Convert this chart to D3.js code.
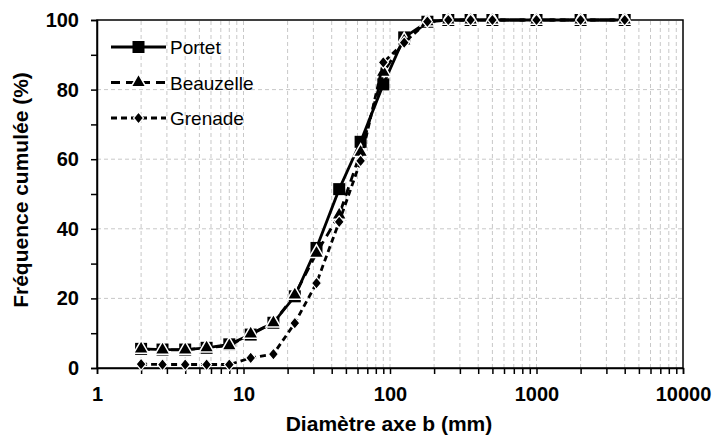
<!DOCTYPE html>
<html>
<head>
<meta charset="utf-8">
<title>Granulométrie</title>
<script src="https://d3js.org/d3.v7.min.js"></script>
<style>
  body { margin: 0; background: #fff; }
  svg { font-family: "Liberation Sans", Arial, sans-serif; }
  .grid line { stroke: #c8c8c8; stroke-width: 1; stroke-dasharray: 4,3; }
  .axis path, .axis line { stroke: #000; stroke-width: 1.5; }
  .axis text { font-size: 20px; font-weight: bold; fill: #000; }
  .title { font-size: 21px; font-weight: bold; }
  .legend text { font-size: 19px; }
</style>
</head>
<body>
<script>
const width = 717, height = 438;
const margin = { top: 20, right: 34, bottom: 70, left: 97 };

// sieve sizes (mm)
const sizes = [2, 2.8, 4, 5.6, 8, 11.2, 16, 22.4, 31.5, 45, 63, 90, 125, 180, 250, 355, 500, 1000, 2000, 4000];
const portet    = [5.5, 5.3, 5.3, 5.8, 6.8, 9.6, 13, 20.6, 34.5, 51.4, 65, 81.5, 95, 99.5, 100, 100, 100, 100, 100, 100];
const beauzelle = [5.5, 5.2, 5.2, 5.8, 6.4, 9.8, 13, 21, 33, 44, 62, 85, 94, 99.5, 100, 100, 100, 100, 100, 100];
const grenade   = [1.1, 1, 1, 1, 1, 2.9, 4, 12.9, 24.4, 42, 59.5, 87.8, 93.5, 99.5, 100, 100, 100, 100, 100, 100];
const seriesNames = ["Portet", "Beauzelle", "Grenade"];
const xTicks = [1, 10, 100, 1000, 10000];
const yTicks = [0, 20, 40, 60, 80, 100];

const series = [
  { name: seriesNames[0], values: portet, dash: null, marker: "square" },
  { name: seriesNames[1], values: beauzelle, dash: "9,6", marker: "triangle" },
  { name: seriesNames[2], values: grenade, dash: "6,4", marker: "diamond" }
];

const svg = d3.select("body").append("svg")
  .attr("width", width).attr("height", height);

const x = d3.scaleLog().domain([1, 10000]).range([margin.left, width - margin.right]);
const y = d3.scaleLinear().domain([0, 100]).range([height - margin.bottom, margin.top]);

// all log ticks (major + minor)
const minorX = [];
for (let d = 1; d < 10000; d *= 10) for (let k = 2; k <= 9; k++) minorX.push(d * k);
const allX = minorX.concat(xTicks.slice(1, -1));

const grid = svg.append("g").attr("class", "grid");
grid.selectAll("line.v").data(allX).join("line")
  .attr("x1", d => x(d)).attr("x2", d => x(d))
  .attr("y1", y(0)).attr("y2", y(100));
grid.selectAll("line.h").data(yTicks.slice(1, -1)).join("line")
  .attr("x1", x(1)).attr("x2", x(10000))
  .attr("y1", d => y(d)).attr("y2", d => y(d));

// plot frame
svg.append("rect")
  .attr("x", x(1)).attr("y", y(100))
  .attr("width", x(10000) - x(1)).attr("height", y(0) - y(100))
  .attr("fill", "none").attr("stroke", "#000").attr("stroke-width", 1.5);

// x axis
svg.append("g").attr("class", "axis")
  .attr("transform", `translate(0,${y(0)})`)
  .call(d3.axisBottom(x).tickValues(xTicks).tickFormat(d3.format("d")).tickSize(6).tickPadding(13));
svg.append("g").attr("class", "axis")
  .attr("transform", `translate(0,${y(0)})`)
  .call(d3.axisBottom(x).tickValues(minorX).tickFormat("").tickSize(6))
  .select(".domain").remove();

// y axis
svg.append("g").attr("class", "axis")
  .attr("transform", `translate(${x(1)},0)`)
  .call(d3.axisLeft(y).tickValues(yTicks).tickSize(6).tickPadding(12));
svg.append("g").attr("class", "axis")
  .attr("transform", `translate(${x(1)},0)`)
  .call(d3.axisLeft(y).tickValues([10, 30, 50, 70, 90]).tickFormat("").tickSize(6))
  .select(".domain").remove();

svg.append("text").attr("class", "title")
  .attr("x", 389).attr("y", 431)
  .attr("text-anchor", "middle").text("Diamètre axe b (mm)");
svg.append("text").attr("class", "title")
  .attr("transform", `translate(28,190) rotate(-90)`)
  .attr("text-anchor", "middle").text("Fréquence cumulée (%)");

const line = d3.line().x(d => x(d[0])).y(d => y(d[1]));

function drawMarker(g, type, cx, cy) {
  if (type === "square") {
    g.append("rect").attr("x", cx - 6).attr("y", cy - 6).attr("width", 12).attr("height", 12)
      .attr("fill", "#000");
  } else if (type === "triangle") {
    g.append("path").attr("d", d3.symbol(d3.symbolTriangle, 95)())
      .attr("transform", `translate(${cx},${cy})`)
      .attr("fill", "#000").attr("stroke", "#fff").attr("stroke-width", 1.5);
  } else {
    g.append("path").attr("d", `M0,-6L5,0L0,6L-5,0Z`)
      .attr("transform", `translate(${cx},${cy})`)
      .attr("fill", "#000").attr("stroke", "#fff").attr("stroke-width", 1.2);
  }
}

series.forEach(s => {
  const pts = sizes.map((v, i) => [v, s.values[i]]);
  const g = svg.append("g");
  g.append("path").datum(pts).attr("d", line)
    .attr("fill", "none").attr("stroke", "#000").attr("stroke-width", 2.8)
    .attr("stroke-dasharray", s.dash);
  pts.forEach(p => drawMarker(g, s.marker, x(p[0]), y(p[1])));
});

// legend
const legend = svg.append("g").attr("class", "legend");
series.forEach((s, i) => {
  const ly = 47 + i * 35.5;
  legend.append("line").attr("x1", 111).attr("x2", 166).attr("y1", ly).attr("y2", ly)
    .attr("stroke", "#000").attr("stroke-width", 2.8).attr("stroke-dasharray", s.dash);
  drawMarker(legend, s.marker, 138.5, ly);
  legend.append("text").attr("x", 170).attr("y", ly + 7).text(s.name);
});
</script>
</body>
</html>
